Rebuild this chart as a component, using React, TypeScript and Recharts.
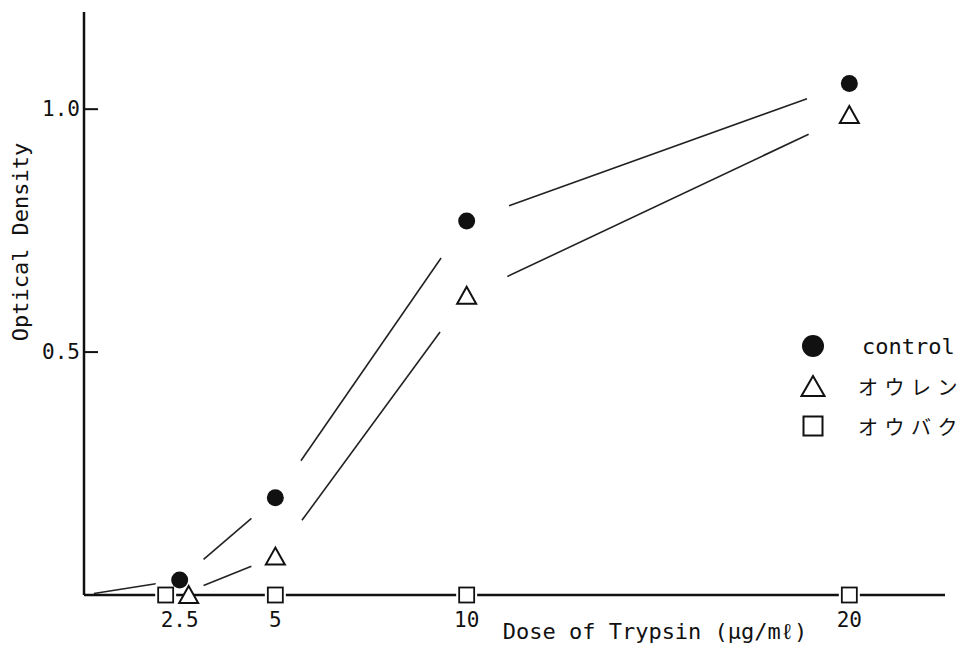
import React from 'react';
import { ScatterChart, Scatter, XAxis, YAxis, ReferenceLine } from 'recharts';

// values
const DOSES = [2.5, 5, 10, 20];
const CONTROL = [0.031, 0.2, 0.77, 1.053];
const OUREN = [0, 0.079, 0.616, 0.988];
const OUBAKU = [0, 0, 0, 0];
const X_TICKS = [2.5, 5, 10, 20];
const Y_TICKS = [0.5, 1.0];
const NAMES = ['control', 'オウレン', 'オウバク'];

const W = 966;
const H = 647;
const MARGIN = { top: 12, right: 21, bottom: 22, left: 24 };
const Y_AXIS_W = 60;
const X_AXIS_H = 30;
const X_DOMAIN = [0, 22.5];
const Y_DOMAIN = [0, 1.2];

const PX_X = (W - MARGIN.left - Y_AXIS_W - MARGIN.right) / (X_DOMAIN[1] - X_DOMAIN[0]);
const PX_Y = (H - MARGIN.top - MARGIN.bottom - X_AXIS_H) / (Y_DOMAIN[1] - Y_DOMAIN[0]);

const MONO = '"DejaVu Sans Mono", "Liberation Mono", monospace';
const JP = '"Noto Sans CJK JP", sans-serif';

const toPoints = (vals: number[]) => DOSES.map((d, i) => ({ dose: d, od: vals[i] }));

// hand-drawn style: segments between points, stopped short of the markers
const gapSegments = (pts: { dose: number; od: number }[]) => {
  const segs: { x: number; y: number }[][] = [];
  for (let i = 0; i < pts.length - 1; i++) {
    const a = pts[i];
    const b = pts[i + 1];
    const dx = (b.dose - a.dose) * PX_X;
    const dy = (b.od - a.od) * PX_Y;
    const len = Math.sqrt(dx * dx + dy * dy);
    const g = Math.min(45, len * 0.25);
    const g0 = a.dose === 0 ? 10 : g;
    const t0 = g0 / len;
    const t1 = 1 - g / len;
    segs.push([
      { x: a.dose + (b.dose - a.dose) * t0, y: a.od + (b.od - a.od) * t0 },
      { x: a.dose + (b.dose - a.dose) * t1, y: a.od + (b.od - a.od) * t1 },
    ]);
  }
  return segs;
};

const controlSegs = gapSegments([{ dose: 0, od: 0 }, ...toPoints(CONTROL)]);
const ourenSegs = gapSegments(toPoints(OUREN));

const CircleDot = (props: any) => {
  const { cx, cy } = props;
  return <circle cx={cx} cy={cy} r={8.5} fill="#111" />;
};

const TriangleDot = (props: any) => {
  const { cy, payload } = props;
  const cx = props.cx + (payload && payload.dose === 2.5 ? 9 : 0);
  const pts = `${cx},${cy - 9} ${cx - 9.5},${cy + 8} ${cx + 9.5},${cy + 8}`;
  return <polygon points={pts} fill="#fff" stroke="#111" strokeWidth={2} strokeLinejoin="miter" />;
};

const SquareDot = (props: any) => {
  const { cy, payload } = props;
  const cx = props.cx + (payload && payload.dose === 2.5 ? -14 : 0);
  return (
    <g>
      <rect x={cx - 7.5} y={cy - 7.5} width={15} height={15} fill="#fff" stroke="#fff" strokeWidth={6} />
      <rect x={cx - 7.5} y={cy - 7.5} width={15} height={15} fill="#fff" stroke="#111" strokeWidth={1.8} />
    </g>
  );
};

const renderYTick = (props: any) => {
  const { x, y, payload } = props;
  return (
    <g>
      <line x1={x} x2={x + 14} y1={y} y2={y} stroke="#111" strokeWidth={2} />
      <text x={x - 4} y={y} dominantBaseline="central" textAnchor="end" fontFamily={MONO} fontSize={21} fill="#111">
        {payload.value.toFixed(1)}
      </text>
    </g>
  );
};

const renderXTick = (props: any) => {
  const { x, y, payload } = props;
  return (
    <text x={x} y={y + 25} dominantBaseline="central" textAnchor="middle" fontFamily={MONO} fontSize={21} fill="#111">
      {payload.value}
    </text>
  );
};

const legendIcons = [
  <circle cx={13} cy={13} r={11} fill="#111" />,
  <polygon points="13,3 1.5,23 24.5,23" fill="#fff" stroke="#111" strokeWidth={2} />,
  <rect x={3.5} y={3.5} width={19} height={19} fill="#fff" stroke="#111" strokeWidth={2} />,
];

const ChartLegend = () => (
  <div style={{ position: 'absolute', left: 800, top: 326, width: 166 }}>
    {NAMES.map((n, i) => (
      <div key={n} style={{ display: 'flex', alignItems: 'center', height: 40 }}>
        <svg width={26} height={26}>{legendIcons[i]}</svg>
        <span
          style={{
            marginLeft: i === 0 ? 36 : 32,
            fontFamily: i === 0 ? MONO : JP,
            fontSize: i === 0 ? 22 : 20,
            letterSpacing: i === 0 ? 0 : 6.5,
            color: '#111',
            whiteSpace: 'nowrap',
          }}
        >
          {n}
        </span>
      </div>
    ))}
  </div>
);

export default function App() {
  return (
    <div style={{ position: 'absolute', left: 0, top: 0, width: W, height: H, background: '#fff' }}>
      <ScatterChart width={W} height={H} margin={MARGIN}>
        <XAxis
          type="number"
          dataKey="dose"
          domain={X_DOMAIN}
          ticks={X_TICKS}
          interval={0}
          height={X_AXIS_H}
          tickSize={0}
          tickMargin={0}
          tickLine={false}
          tick={renderXTick}
          axisLine={{ stroke: '#111', strokeWidth: 2.5 }}
          label={{
            content: () => (
              <text x={655} y={639} textAnchor="middle" fontFamily={MONO} fontSize={22} fill="#111">
                Dose of Trypsin (μg/mℓ)
              </text>
            ),
          }}
        />
        <YAxis
          type="number"
          dataKey="od"
          domain={Y_DOMAIN}
          ticks={Y_TICKS}
          interval={0}
          width={Y_AXIS_W}
          tickSize={0}
          tickMargin={0}
          tickLine={false}
          tick={renderYTick}
          axisLine={{ stroke: '#111', strokeWidth: 2.5 }}
          label={{
            content: () => (
              <text x={20} y={242} transform="rotate(-90 20 242)" textAnchor="middle" dominantBaseline="central" fontFamily={MONO} fontSize={22} fill="#111">
                Optical Density
              </text>
            ),
          }}
        />
        {controlSegs.map((s, i) => (
          <ReferenceLine key={`c-${i}`} segment={s} stroke="#222" strokeWidth={1.6} />
        ))}
        {ourenSegs.map((s, i) => (
          <ReferenceLine key={`o-${i}`} segment={s} stroke="#222" strokeWidth={1.6} />
        ))}
        <Scatter name={NAMES[2]} data={toPoints(OUBAKU)} shape={SquareDot} isAnimationActive={false} />
        <Scatter name={NAMES[1]} data={toPoints(OUREN)} shape={TriangleDot} isAnimationActive={false} />
        <Scatter name={NAMES[0]} data={toPoints(CONTROL)} shape={CircleDot} isAnimationActive={false} />
      </ScatterChart>
      <ChartLegend />
    </div>
  );
}
